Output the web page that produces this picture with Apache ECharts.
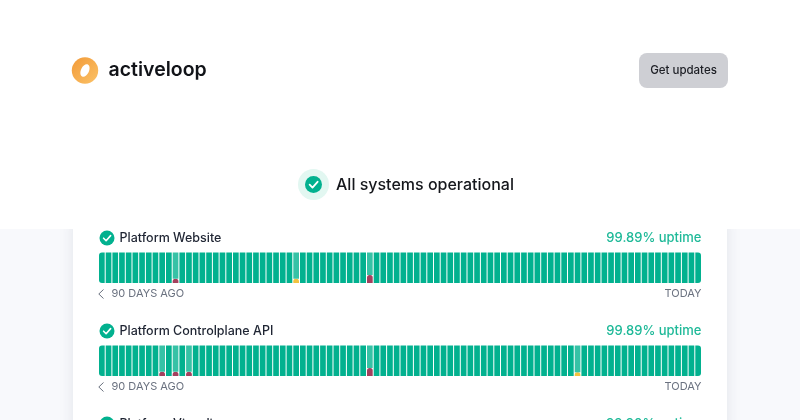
<!DOCTYPE html>
<html><head><meta charset="utf-8">
<script src="https://cdn.jsdelivr.net/npm/echarts@6/dist/echarts.min.js"></script>
<style>html,body{margin:0;padding:0;background:#fff}#c{width:800px;height:420px}</style>
</head><body><div id="c"></div>
<script>
// Day-by-day share of the bar that is taken by an incident (0 = clean day), oldest first.
const days = ['d1','d2','d3','d4','d5','d6','d7','d8','d9','d10','d11','d12','d13','d14','d15','d16','d17','d18','d19','d20','d21','d22','d23','d24','d25','d26','d27','d28','d29','d30','d31','d32','d33','d34','d35','d36','d37','d38','d39','d40','d41','d42','d43','d44','d45','d46','d47','d48','d49','d50','d51','d52','d53','d54','d55','d56','d57','d58','d59','d60','d61','d62','d63','d64','d65','d66','d67','d68','d69','d70','d71','d72','d73','d74','d75','d76','d77','d78','d79','d80','d81','d82','d83','d84','d85','d86','d87','d88','d89','d90'];
const websiteOutage = [0,0,0,0,0,0,0,0,0,0,0,14,0,0,0,0,0,0,0,0,0,0,0,0,0,0,0,0,0,0,0,0,0,0,0,0,0,0,0,0,0,0,0,0,0,0,0,0,0,0,0,0,0,0,0,0,0,0,0,0,0,0,0,0,0,0,0,0,0,0,0,0,0,0,0,0,0,0,0,0,0,0,0,0,0,0,0,0,0,0];
const websitePartial = [0,0,0,0,0,0,0,0,0,0,0,0,0,0,0,0,0,0,0,0,0,0,0,0,0,0,0,0,0,14,0,0,0,0,0,0,0,0,0,0,0,0,0,0,0,0,0,0,0,0,0,0,0,0,0,0,0,0,0,0,0,0,0,0,0,0,0,0,0,0,0,0,0,0,0,0,0,0,0,0,0,0,0,0,0,0,0,0,0,0];
websiteOutage[40] = 26;
const apiOutage = [0,0,0,0,0,0,0,0,0,14,0,14,0,14,0,0,0,0,0,0,0,0,0,0,0,0,0,0,0,0,0,0,0,0,0,0,0,0,0,0,26,0,0,0,0,0,0,0,0,0,0,0,0,0,0,0,0,0,0,0,0,0,0,0,0,0,0,0,0,0,0,0,0,0,0,0,0,0,0,0,0,0,0,0,0,0,0,0,0,0];
const apiPartial = [0,0,0,0,0,0,0,0,0,0,0,0,0,0,0,0,0,0,0,0,0,0,0,0,0,0,0,0,0,0,0,0,0,0,0,0,0,0,0,0,0,0,0,0,0,0,0,0,0,0,0,0,0,0,0,0,0,0,0,0,0,0,0,0,0,0,0,0,0,0,0,12,0,0,0,0,0,0,0,0,0,0,0,0,0,0,0,0,0,0];
const serviceNames = ['Platform Website','Platform Controlplane API','Platform Visualizer'];
const uptimeLabels = ['99.89% uptime','99.89% uptime','99.90% uptime'];
const rangeLabels = ['90 DAYS AGO','TODAY'];

const GREEN='#02b18f', LIGHT='#36c2a6', RED='#a4405e', YEL='#f1c23f';
const tops=[252.5,345.5], H=30.5, L=98.5, W=603;
const grids=tops.map(t=>({left:L,top:t,width:W,height:H}));
const xAxes=tops.map((t,i)=>({type:'category',gridIndex:i,data:days,show:false}));
const yAxes=tops.map((t,i)=>({type:'value',gridIndex:i,min:0,max:100,show:false}));
function seriesFor(i,out,par){
  const base={type:'bar',xAxisIndex:i,yAxisIndex:i,stack:'s'+i,barCategoryGap:'15%',silent:true,animation:false};
  const incident=out.map((v,k)=>v+par[k]>0);
  return [
    {...base,name:'outage',data:out,itemStyle:{color:RED,borderRadius:[2.5,2.5,0,0]}},
    {...base,name:'partial',data:par,itemStyle:{color:YEL,borderRadius:[2.5,2.5,0,0]}},
    {...base,name:'up',data:out.map((v,k)=>{
      const n=days.length-1;
      return {value:100-v-par[k],itemStyle:{
        color:incident[k]?LIGHT:GREEN,
        borderRadius:k===0?[3,0,0,3]:k===n?[0,3,3,0]:0}};
    })}
  ];
}
function check(cx,cy,r){
  const s=r/7.5;
  return [
    {type:'circle',shape:{cx,cy,r},style:{fill:GREEN}},
    {type:'polyline',shape:{points:[[cx-3.4*s,cy+0.2*s],[cx-0.9*s,cy+2.7*s],[cx+3.6*s,cy-2.4*s]]},style:{stroke:'#fff',lineWidth:1.6*s,fill:null,lineCap:'round',lineJoin:'round'}}
  ];
}
const FONT='Inter, sans-serif';
const g=[
  {type:'rect',shape:{x:0,y:229,width:800,height:191},style:{fill:'#f8f9fc'},z:-10},
  {type:'rect',shape:{x:73,y:215,width:654,height:220},style:{fill:'#fff',shadowBlur:14,shadowColor:'rgba(40,50,80,0.10)',shadowOffsetY:2},z:-9},
  {type:'rect',shape:{x:0,y:120,width:800,height:109},style:{fill:'#fff'},z:-8},
  // logo
  {type:'circle',shape:{cx:85,cy:70.5,r:13.2},style:{fill:{type:'linear',x:0,y:0,x2:1,y2:1,colorStops:[{offset:0,color:'#f29a38'},{offset:1,color:'#fbc267'}]}}},
  {type:'ellipse',shape:{cx:0,cy:0,rx:4,ry:6.6},x:85,y:70.5,rotation:-0.45,style:{fill:'#fff'}},
  {type:'text',style:{x:108.5,y:70,text:'activeloop',font:'600 19.5px '+FONT,fill:'#111318',verticalAlign:'middle'}},
  // button
  {type:'rect',shape:{x:639,y:53,width:89,height:35,r:8},style:{fill:'#cecfd4'}},
  {type:'text',style:{x:683.5,y:70.5,text:'Get updates',font:'500 11.5px '+FONT,fill:'#1c1e24',align:'center',verticalAlign:'middle'}},
  // status
  {type:'circle',shape:{cx:313.5,cy:184.5,r:15.5},style:{fill:'#e2f7f1'}},
  ...check(313.5,184.5,8.5),
  {type:'text',style:{x:336,y:185,text:'All systems operational',font:'500 16px '+FONT,fill:'#15171c',verticalAlign:'middle'}}
];
[238,331,424].forEach((y,i)=>{
  g.push(...check(107,y,7.5));
  g.push({type:'text',style:{x:119.5,y:y,text:serviceNames[i],font:'500 12.5px '+FONT,fill:'#1f2533',verticalAlign:'middle'}});
  g.push({type:'text',style:{x:701.5,y:y,text:uptimeLabels[i],font:'500 13px '+FONT,fill:'#1eb998',align:'right',verticalAlign:'middle'}});
  if(i<2){
    const ly=y+56;
    g.push({type:'polyline',shape:{points:[[103.5,ly-4.5],[98.8,ly],[103.5,ly+4.5]]},style:{stroke:'#6b7280',lineWidth:1,fill:null}});
    g.push({type:'text',style:{x:111.5,y:ly,text:rangeLabels[0],font:'400 11px '+FONT,fill:'#6b7280',verticalAlign:'middle'}});
    g.push({type:'text',style:{x:701.5,y:ly,text:rangeLabels[1],font:'400 11px '+FONT,fill:'#6b7280',align:'right',verticalAlign:'middle'}});
  }
});
const chart=echarts.init(document.getElementById('c'),null,{renderer:'canvas'});
chart.setOption({
  animation:false,backgroundColor:'#fff',
  grid:grids,xAxis:xAxes,yAxis:yAxes,
  series:[...seriesFor(0,websiteOutage,websitePartial),...seriesFor(1,apiOutage,apiPartial)],
  graphic:{elements:g}
});
</script></body></html>
